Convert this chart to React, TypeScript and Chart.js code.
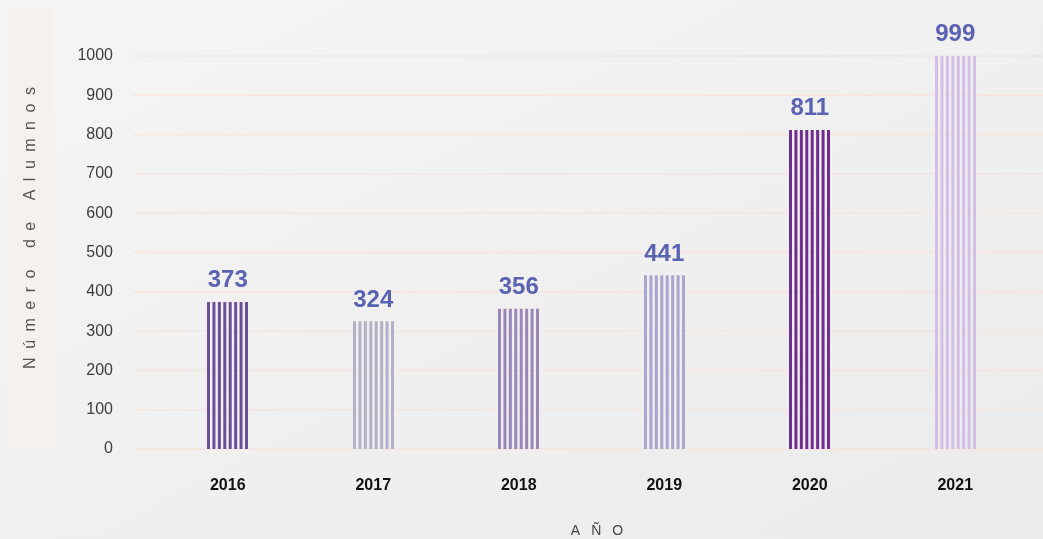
import { useEffect, useRef } from 'react';
import { Chart, registerables } from 'chart.js';

Chart.register(...registerables);

const years: string[] = ['2016', '2017', '2018', '2019', '2020', '2021'];
const students: number[] = [373, 324, 356, 441, 811, 999];
const barColors: string[] = ['#6a5098', '#b3b0c8', '#9a86b8', '#a8a5d0', '#6e2e8e', '#d3bfe6'];
const yTitle = 'Número de Alumnos';
const xTitle = 'AÑO';
const yMin = 0;
const yMax = 1000;
const yStep = 100;

const FONT = '"Liberation Sans", Arial, sans-serif';
const BAR_W = 41;
const STRIPES = 8;
const STRIPE_W = 3;

function stripePattern(ctx: CanvasRenderingContext2D, color: string, left: number) {
  const tile = document.createElement('canvas');
  tile.width = 44;
  tile.height = 4;
  const t = tile.getContext('2d') as CanvasRenderingContext2D;
  t.fillStyle = color;
  const pitch = (BAR_W - STRIPE_W) / (STRIPES - 1);
  for (let i = 0; i < STRIPES; i++) t.fillRect(i * pitch, 0, STRIPE_W, 4);
  const p = ctx.createPattern(tile, 'repeat-y') as CanvasPattern;
  p.setTransform(new DOMMatrix([1, 0, 0, 1, Math.round(left), 0]));
  return p;
}

const decorPlugin = {
  id: 'decor',
  beforeDraw(chart: any) {
    const ctx = chart.ctx as CanvasRenderingContext2D;
    ctx.save();
    ctx.fillStyle = '#f6f1ef';
    ctx.fillRect(8, 7, 45, 442);
    ctx.translate(31, 228);
    ctx.rotate(-Math.PI / 2);
    ctx.font = `16px ${FONT}`;
    (ctx as any).letterSpacing = '8.5px';
    ctx.fillStyle = '#555555';
    ctx.textAlign = 'center';
    ctx.textBaseline = 'middle';
    ctx.fillText(yTitle, 4.25, 0);
    ctx.restore();

    ctx.save();
    ctx.font = `14px ${FONT}`;
    (ctx as any).letterSpacing = '11px';
    ctx.fillStyle = '#444444';
    ctx.textAlign = 'center';
    ctx.textBaseline = 'alphabetic';
    ctx.fillText(xTitle, 597 + 5.5, 535);
    ctx.restore();
  },
  beforeDatasetsDraw(chart: any) {
    const ctx = chart.ctx as CanvasRenderingContext2D;
    const ys = chart.scales.y;
    ctx.save();
    ctx.strokeStyle = 'rgba(246, 226, 216, 0.7)';
    ctx.lineWidth = 1.5;
    ys.ticks.forEach((t: any) => {
      const y = ys.getPixelForValue(t.value);
      ctx.beginPath();
      ctx.moveTo(133, y);
      ctx.lineTo(chart.width, y);
      ctx.stroke();
    });
    ctx.restore();
  },
  afterDatasetsDraw(chart: any) {
    const ctx = chart.ctx as CanvasRenderingContext2D;
    const meta = chart.getDatasetMeta(0);
    ctx.save();
    ctx.font = `bold 24px ${FONT}`;
    ctx.fillStyle = '#5a62b4';
    ctx.textAlign = 'center';
    ctx.textBaseline = 'alphabetic';
    meta.data.forEach((el: any, i: number) => {
      ctx.fillText(String(students[i]), el.x, el.y - 15);
    });
    ctx.restore();
  },
};

export default function App() {
  const ref = useRef<HTMLCanvasElement | null>(null);

  useEffect(() => {
    document.body.style.margin = '0';
    const canvas = ref.current as HTMLCanvasElement;
    const chart = new Chart(canvas, {
      type: 'bar',
      data: {
        labels: years,
        datasets: [
          {
            data: students,
            barThickness: BAR_W,
            borderWidth: 0,
            backgroundColor: (c: any) => {
              const xs = c.chart.scales?.x;
              const color = barColors[c.dataIndex] ?? barColors[0];
              if (!xs || c.type !== 'data') return color;
              const center = xs.getPixelForValue(c.dataIndex);
              if (!isFinite(center)) return color;
              return stripePattern(c.chart.ctx, color, center - BAR_W / 2);
            },
          } as any,
        ],
      },
      options: {
        animation: false,
        responsive: false,
        maintainAspectRatio: false,
        layout: { padding: { left: 75, right: 15, top: 56, bottom: 0 } },
        plugins: { legend: { display: false }, tooltip: { enabled: false } },
        scales: {
          x: {
            grid: { display: false, drawTicks: false },
            border: { display: false },
            ticks: { font: { family: FONT, size: 16, weight: 'bold' }, color: '#111111', padding: 27 },
            afterFit: (s: any) => { s.height = 90; },
          },
          y: {
            min: yMin,
            max: yMax,
            grid: { display: false, drawTicks: false },
            border: { display: false },
            ticks: {
              stepSize: yStep,
              font: { family: FONT, size: 16 },
              color: '#3d3d3d',
              padding: 42,
              callback: (v: any) => String(v),
            },
            afterFit: (s: any) => { s.width = 80; },
          },
        },
      } as any,
      plugins: [decorPlugin],
    });
    return () => chart.destroy();
  }, []);

  return (
    <div
      style={{
        position: 'fixed',
        left: 0,
        top: 0,
        width: 1043,
        height: 539,
        background: 'linear-gradient(to bottom right, #f5f5f5, #ebebeb)',
      }}
    >
      <canvas ref={ref} width={1043} height={539} style={{ display: 'block' }} />
    </div>
  );
}
